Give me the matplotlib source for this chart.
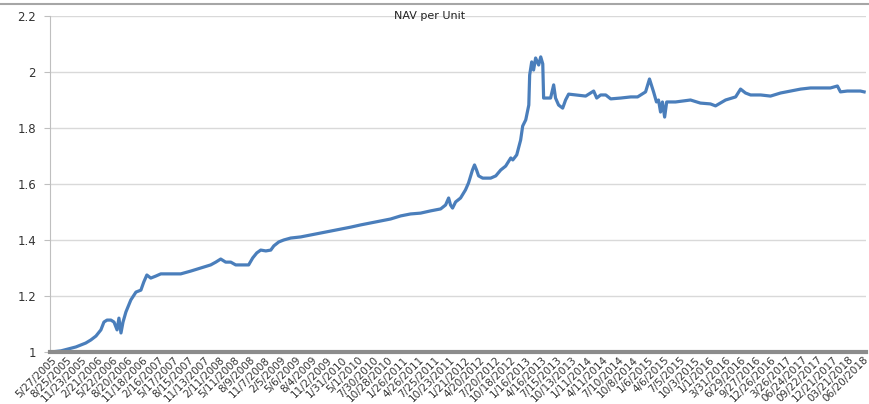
import pandas as pd
import matplotlib.pyplot as plt
from matplotlib.lines import Line2D

# NAV
dates = [
    "2005-05-27", "2005-07-24", "2005-10-20", "2005-12-17", "2006-01-16", "2006-02-15",
    "2006-03-16", "2006-04-03", "2006-04-21", "2006-05-14", "2006-06-01", "2006-06-19",
    "2006-06-30", "2006-07-12", "2006-07-24", "2006-08-10", "2006-09-08", "2006-10-08",
    "2006-11-06", "2006-11-23", "2006-12-11", "2007-01-03", "2007-02-01", "2007-03-03",
    "2007-05-01", "2007-06-28", "2007-08-26", "2007-10-24", "2007-12-21", "2008-01-20",
    "2008-02-18", "2008-03-18", "2008-04-17", "2008-05-16", "2008-06-15", "2008-07-31",
    "2008-08-24", "2008-09-17", "2008-10-10", "2008-11-09", "2008-12-08", "2008-12-26",
    "2009-01-24", "2009-02-22", "2009-04-04", "2009-06-02", "2009-07-31", "2009-09-28",
    "2009-11-25", "2010-01-23", "2010-03-23", "2010-05-21", "2010-07-18", "2010-09-15",
    "2010-11-12", "2011-01-10", "2011-03-09", "2011-05-07", "2011-07-05", "2011-09-02",
    "2011-10-01", "2011-10-19", "2011-10-30", "2011-11-11", "2011-11-29", "2011-12-28",
    "2012-01-26", "2012-02-13", "2012-03-07", "2012-03-19", "2012-03-31", "2012-04-12",
    "2012-05-06", "2012-06-22", "2012-07-22", "2012-08-20", "2012-09-18", "2012-10-18",
    "2012-10-30", "2012-11-22", "2012-12-15", "2012-12-27", "2013-01-14", "2013-02-01",
    "2013-02-06", "2013-02-18", "2013-03-01", "2013-03-13", "2013-03-31", "2013-04-12",
    "2013-04-24", "2013-04-29", "2013-06-09", "2013-06-27", "2013-07-08", "2013-07-26",
    "2013-08-19", "2013-09-05", "2013-09-23", "2013-11-03", "2014-01-01", "2014-02-17",
    "2014-03-07", "2014-03-30", "2014-04-29", "2014-05-28", "2014-07-26", "2014-09-23",
    "2014-11-02", "2014-11-20", "2014-12-19", "2015-01-11", "2015-02-04", "2015-02-21",
    "2015-03-05", "2015-03-17", "2015-03-28", "2015-04-10", "2015-04-22", "2015-06-13",
    "2015-09-09", "2015-11-06", "2016-01-04", "2016-02-03", "2016-04-02", "2016-05-31",
    "2016-06-29", "2016-07-28", "2016-08-27", "2016-10-25", "2016-12-22", "2017-02-19",
    "2017-04-19", "2017-06-17", "2017-08-14", "2017-10-12", "2017-12-09", "2018-01-19",
    "2018-02-06", "2018-03-18", "2018-04-05", "2018-06-03", "2018-06-25",
]
nav = [
    1.000, 1.004, 1.018, 1.032, 1.043, 1.057,
    1.079, 1.107, 1.114, 1.114, 1.107, 1.079,
    1.121, 1.068, 1.107, 1.143, 1.186, 1.214,
    1.221, 1.250, 1.275, 1.264, 1.271, 1.279,
    1.279, 1.279, 1.289, 1.300, 1.311, 1.321,
    1.332, 1.321, 1.321, 1.311, 1.311, 1.311,
    1.336, 1.354, 1.364, 1.361, 1.364, 1.379,
    1.393, 1.400, 1.407, 1.411, 1.418, 1.425,
    1.432, 1.439, 1.446, 1.454, 1.461, 1.468,
    1.475, 1.486, 1.493, 1.496, 1.504, 1.511,
    1.525, 1.550, 1.525, 1.514, 1.536, 1.550,
    1.579, 1.604, 1.650, 1.668, 1.650, 1.629,
    1.621, 1.621, 1.629, 1.650, 1.664, 1.693,
    1.686, 1.704, 1.757, 1.807, 1.829, 1.882,
    1.989, 2.036, 2.007, 2.050, 2.025, 2.054,
    2.029, 1.907, 1.907, 1.954, 1.907, 1.882,
    1.871, 1.900, 1.921, 1.918, 1.914, 1.932,
    1.907, 1.918, 1.918, 1.904, 1.907, 1.911,
    1.911, 1.918, 1.929, 1.975, 1.929, 1.893,
    1.900, 1.857, 1.893, 1.839, 1.893, 1.893,
    1.900, 1.889, 1.886, 1.879, 1.900, 1.911,
    1.939, 1.925, 1.918, 1.918, 1.914, 1.925,
    1.932, 1.939, 1.943, 1.943, 1.943, 1.950,
    1.929, 1.932, 1.932, 1.932, 1.929,
]

tick_labels = [
    "5/27/2005", "8/25/2005", "11/23/2005", "2/21/2006", "5/22/2006", "8/20/2006",
    "11/18/2006", "2/16/2007", "5/17/2007", "8/15/2007", "11/13/2007", "2/11/2008",
    "5/11/2008", "8/9/2008", "11/7/2008", "2/5/2009", "5/6/2009", "8/4/2009",
    "11/2/2009", "1/31/2010", "5/1/2010", "7/30/2010", "10/28/2010", "1/26/2011",
    "4/26/2011", "7/25/2011", "10/23/2011", "1/21/2012", "4/20/2012", "7/20/2012",
    "10/18/2012", "1/16/2013", "4/16/2013", "7/15/2013", "10/13/2013", "1/11/2014",
    "4/11/2014", "7/10/2014", "10/8/2014", "1/6/2015", "4/6/2015", "7/5/2015",
    "10/3/2015", "1/1/2016", "3/31/2016", "6/29/2016", "9/27/2016", "12/26/2016",
    "3/26/2017", "06/24/2017", "09/22/2017", "12/21/2017", "03/21/2018", "06/20/2018",
]

x = pd.to_datetime(dates)
ticks = pd.to_datetime(tick_labels, format="%m/%d/%Y")

fig = plt.figure(figsize=(8.69, 4.04), dpi=100)
ax = fig.add_axes([50 / 869, 1 - 352 / 404, 816 / 869, 336 / 404])

ax.plot(x, nav, color="#4a7ebb", linewidth=2.3, solid_joinstyle="round")

ax.set_ylim(1, 2.2)
ax.set_yticks([1, 1.2, 1.4, 1.6, 1.8, 2, 2.2])
ax.set_yticklabels(["1", "1.2", "1.4", "1.6", "1.8", "2", "2.2"])
ax.set_xlim(ticks[0] - pd.Timedelta(days=6), pd.Timestamp("2018-07-06"))
ax.set_xticks(ticks)
ax.set_xticklabels(tick_labels, rotation=45, ha="right", rotation_mode="anchor", fontsize=7.5)

ax.grid(axis="y", color="#d9d9d9", linewidth=1)
ax.set_axisbelow(True)
for s in ["top", "right"]:
    ax.spines[s].set_visible(False)
ax.spines["left"].set_color("#bfbfbf")
ax.spines["bottom"].set_color("#8c8c8c")
ax.spines["bottom"].set_linewidth(3)
ax.tick_params(axis="y", length=4, color="#bfbfbf", labelsize=8.5, labelcolor="#333333", pad=6)
ax.tick_params(axis="x", length=0, labelcolor="#333333", pad=2)

fig.text(430 / 869, 1 - 16 / 404, "NAV per Unit", ha="center", va="center", fontsize=8, color="#222222")
fig.add_artist(Line2D([0, 1], [1 - 4 / 404, 1 - 4 / 404], color="#a6a6a6", linewidth=1.5, transform=fig.transFigure))

fig.savefig("out.png", dpi=100)
